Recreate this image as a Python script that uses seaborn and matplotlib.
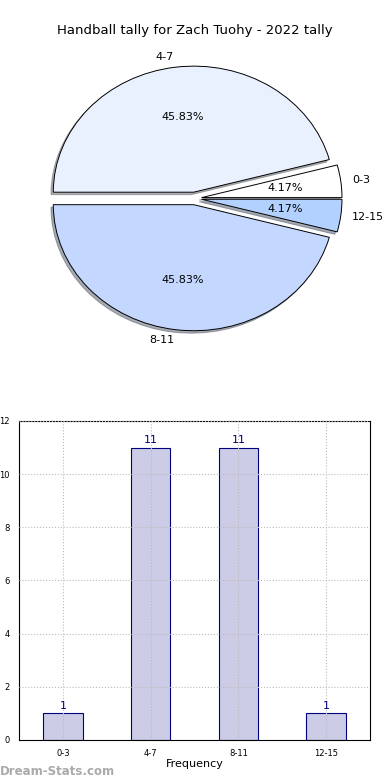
import pandas as pd
import seaborn as sns
import matplotlib.pyplot as plt

# tally data
categories = ["0-3", "4-7", "8-11", "12-15"]
counts = [1, 11, 11, 1]
pie_colors = ["#ffffff", "#eaf1fe", "#c4d8ff", "#b3d1ff"]

title = "Handball tally for Zach Tuohy - 2022 tally"

sns.set_style("white")
plt.rcParams['font.family'] = ['DejaVu Sans']
plt.rcParams['text.color'] = 'black'
plt.rcParams['axes.labelcolor'] = 'black'
plt.rcParams['xtick.color'] = 'black'
plt.rcParams['ytick.color'] = 'black'

fig = plt.figure(figsize=(3.9, 7.8), dpi=100)

# pie on top
ax1 = fig.add_axes([0.049, 0.5436, 0.9, 0.404])
ax1.pie(counts, labels=categories, colors=pie_colors, autopct="%.2f%%",
        startangle=0, explode=[0.05] * 4, labeldistance=1.08,
        shadow={"ox": -0.012, "oy": -0.014, "shade": 0.6},
        wedgeprops={"edgecolor": "black", "linewidth": 0.7},
        textprops={"fontsize": 8})
ax1.set_aspect("auto")
ax1.set_xlim(-1.25, 1.25)
ax1.set_ylim(-1.25, 1.25)
ax1.set_title(title, fontsize=9.5, pad=5)

# bar chart below
ax2 = fig.add_axes([0.049, 0.0513, 0.9, 0.409])
df = pd.DataFrame({"range": categories, "count": counts})
sns.barplot(data=df, x="range", y="count", color="#ccccE6", edgecolor="navy",
            linewidth=0.8, width=0.45, saturation=1, ax=ax2)
for i, c in enumerate(counts):
    ax2.text(i, c + 0.1, str(c), ha="center", va="bottom", color="navy", fontsize=8)
ax2.set_xlim(-0.5, 3.5)
ax2.set_ylim(0, 12)
ax2.set_yticks(range(0, 13, 2))
ax2.grid(True, linestyle=":", color="#bbbbbb", linewidth=0.8)
ax2.set_axisbelow(False)
ax2.tick_params(labelsize=6, length=3, direction="out")
ax2.set_xlabel("Frequency", fontsize=8, labelpad=1)
ax2.set_ylabel("Handball Tally", fontsize=8, labelpad=4)
for s in ax2.spines.values():
    s.set_color("black")
    s.set_linewidth(0.8)

fig.text(0.0, 0.006, "Dream-Stats.com", fontsize=8.5, color="#aaaaaa", fontweight="bold")

fig.savefig("out.png", dpi=100)
